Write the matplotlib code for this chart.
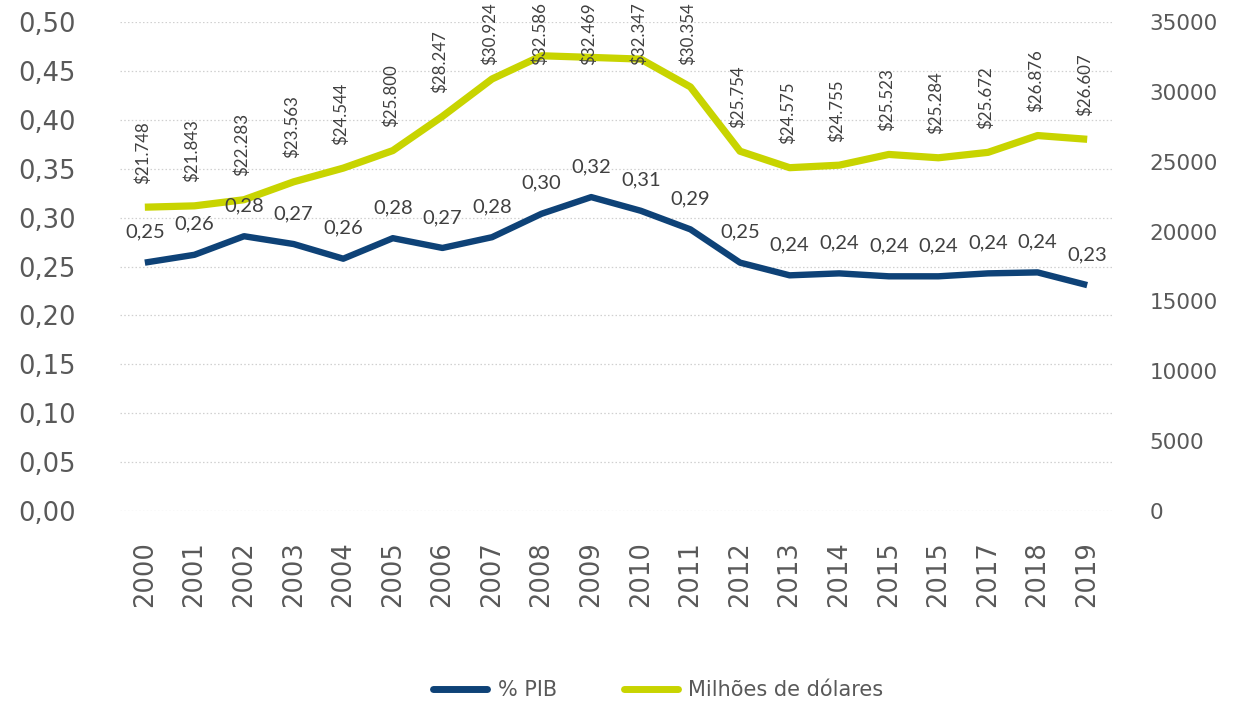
import matplotlib
matplotlib.use("Agg")
import matplotlib.pyplot as plt
from matplotlib.ticker import FuncFormatter, MultipleLocator
from matplotlib.lines import Line2D
import numpy as np

# Data
years = ["2000", "2001", "2002", "2003", "2004", "2005", "2006", "2007", "2008", "2009",
         "2010", "2011", "2012", "2013", "2014", "2015", "2015", "2017", "2018", "2019"]
pib_pct = [0.254, 0.262, 0.281, 0.273, 0.258, 0.279, 0.269, 0.280, 0.304, 0.321,
           0.307, 0.288, 0.254, 0.241, 0.243, 0.240, 0.240, 0.243, 0.244, 0.231]
usd_millions = [21748, 21843, 22283, 23563, 24544, 25800, 28247, 30924, 32586, 32469,
                32347, 30354, 25754, 24575, 24755, 25523, 25284, 25672, 26876, 26607]
series_names = ["% PIB", "Milhões de dólares"]

BLUE = "#0E4277"
GREEN = "#C8D400"
TICK_GREY = "#595959"
LABEL_GREY = "#404040"

plt.rcParams["font.family"] = ["DejaVu Sans"]

fig = plt.figure(figsize=(12.35, 7.04), dpi=100)
ax = fig.add_axes([0.0972, 0.2741, 0.8032, 0.6946])
ax2 = ax.twinx()

x = np.arange(len(years))

# Left axis: share of GDP
ax.plot(x, pib_pct, color=BLUE, lw=4.6, solid_capstyle="butt", solid_joinstyle="round", zorder=3)
ax.set_ylim(0, 0.5)
ax.set_xlim(-0.5, len(years) - 0.5)
ax.yaxis.set_major_locator(MultipleLocator(0.05))
ax.yaxis.set_major_formatter(FuncFormatter(lambda v, p: f"{v:.2f}".replace(".", ",")))
ax.grid(axis="y", color="#D0D0D0", linestyle=(0, (1.2, 1.8)), linewidth=0.9)
ax.set_axisbelow(True)
ax.set_xticks(x)
ax.set_xticklabels(years, rotation=90)
ax.tick_params(axis="y", length=0, pad=32, labelsize=18.5, labelcolor=TICK_GREY)
ax.tick_params(axis="x", length=0, pad=22, labelsize=18.5, labelcolor=TICK_GREY)

# Right axis: millions of dollars
ax2.plot(x, usd_millions, color=GREEN, lw=5.2, solid_capstyle="butt", solid_joinstyle="round", zorder=2)
ax2.set_ylim(0, 35000)
ax2.yaxis.set_major_locator(MultipleLocator(5000))
ax2.tick_params(axis="y", length=0, pad=27, labelsize=15.5, labelcolor=TICK_GREY)

for a in (ax, ax2):
    for s in a.spines.values():
        s.set_visible(False)

# Value labels for % PIB (drawn on the top layer so they sit over the green line)
for xi, v in zip(x, pib_pct):
    ax2.annotate(f"{v:.2f}".replace(".", ","), xy=(xi, v), xycoords=ax.transData,
                 xytext=(0, 18), textcoords="offset points", ha="center", va="baseline",
                 fontsize=14.5, color=LABEL_GREY, family=["Lato", "DejaVu Sans"], zorder=5)

# Value labels for dollars, rotated
usd_texts = []
for xi, v in zip(x, usd_millions):
    t = ax2.annotate("$" + f"{v:,}".replace(",", "."), xy=(xi, v),
                     xytext=(-1.5, 17), textcoords="offset points", ha="center", va="bottom",
                     rotation=90, fontsize=12.2, color=LABEL_GREY,
                     family=["Lato", "DejaVu Sans"], zorder=5)
    usd_texts.append(t)

# Keep rotated labels inside the figure
fig.canvas.draw()
renderer = fig.canvas.get_renderer()
fig_h = fig.bbox.height
for t in usd_texts:
    bb = t.get_window_extent(renderer)
    if bb.y1 > fig_h - 2:
        shift_px = bb.y1 - (fig_h - 2)
        dx, dy = t.xyann
        t.xyann = (dx, dy - shift_px * 72 / fig.dpi)

# Legend
handles = [Line2D([], [], color=BLUE, lw=5, solid_capstyle="round"),
           Line2D([], [], color=GREEN, lw=5, solid_capstyle="round")]
leg = fig.legend(handles, series_names, loc="center", bbox_to_anchor=(0.533, 0.02), ncol=2,
                 frameon=False, fontsize=15, handlelength=2.6, handletextpad=0.5,
                 columnspacing=3.2)
for txt in leg.get_texts():
    txt.set_color(TICK_GREY)

fig.savefig("out.png", dpi=100)
